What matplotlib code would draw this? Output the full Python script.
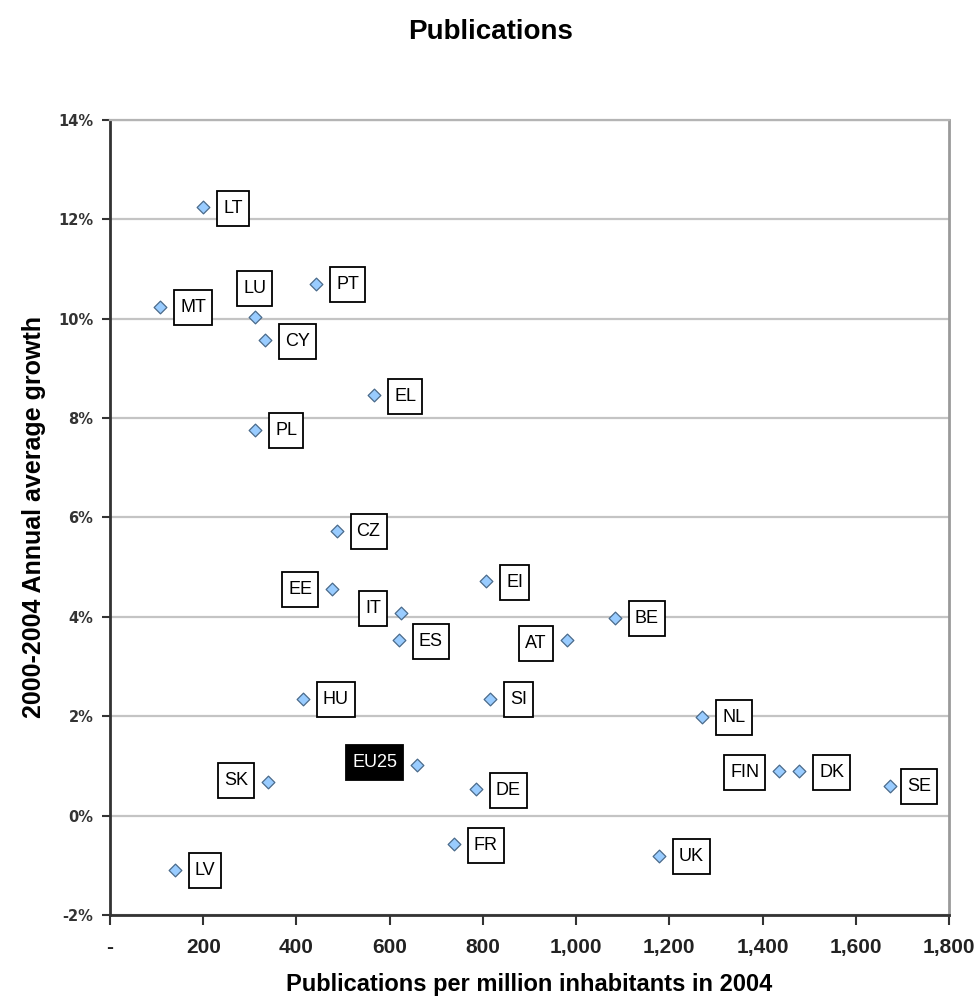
import matplotlib
matplotlib.use("Agg")
import matplotlib.pyplot as plt
from matplotlib.path import Path

# ---------------- data ----------------
countries = ['LT', 'MT', 'LU', 'PT', 'CY', 'EL', 'PL', 'CZ', 'EE', 'IT', 'ES', 'EI', 'AT',
             'HU', 'SI', 'BE', 'DE', 'SK', 'EU25', 'FR', 'LV', 'NL', 'FIN', 'DK', 'SE', 'UK']
publications = [200, 108, 311, 443, 333, 567, 312, 486, 477, 624, 620, 807, 980,
                413, 816, 1083, 785, 339, 659, 737, 139, 1271, 1436, 1479, 1674, 1178]
growth = [12.24, 10.24, 10.04, 10.70, 9.56, 8.46, 7.76, 5.73, 4.55, 4.07, 3.53, 4.71, 3.53,
          2.35, 2.35, 3.98, 0.53, 0.68, 1.02, -0.58, -1.09, 1.99, 0.89, 0.89, 0.60, -0.81]
x_ticks = [0, 200, 400, 600, 800, 1000, 1200, 1400, 1600, 1800]
x_tick_labels = ['-', '200', '400', '600', '800', '1,000', '1,200', '1,400', '1,600', '1,800']
y_ticks = [-2, 0, 2, 4, 6, 8, 10, 12, 14]
y_tick_labels = ['-2%', '0%', '2%', '4%', '6%', '8%', '10%', '12%', '14%']

# label placement (style): side and pixel offsets
left_labels = {'EE': 0, 'IT': 4.6, 'AT': -3.7, 'SK': 1, 'EU25': 2.5, 'FIN': -1}
above_labels = {'LU'}


# ---------------- custom box: different horizontal / vertical padding ----------------
def make_box(padx, pady):
    def box(x0, y0, width, height, mutation_size):
        x0 -= padx
        y0 -= pady
        x1 = x0 + width + 2 * padx
        y1 = y0 + height + 2 * pady
        return Path([(x0, y0), (x1, y0), (x1, y1), (x0, y1), (x0, y0)], closed=True)
    return box


fig = plt.figure(figsize=(9.79, 10.02), dpi=100)
ax = fig.add_axes([110 / 979, 1 - 915 / 1002, (949 - 110) / 979, (915 - 119.7) / 1002])

ax.set_xlim(0, 1800)
ax.set_ylim(-2, 14)

for yv in y_ticks:
    ax.axhline(yv, color='#c4c4c4', lw=1.6, zorder=0)

ax.scatter(publications, growth, marker='D', s=42, facecolor='#99ccff',
           edgecolor='#4a6a8a', linewidth=0.9, zorder=3)

label_font = 'Liberation Sans'
box = make_box(6, 9)
for name, xv, yv in zip(countries, publications, growth):
    if name == 'EU25':
        fc, tc = 'black', 'white'
    else:
        fc, tc = 'white', 'black'
    bbox = dict(boxstyle=box, facecolor=fc, edgecolor='black', linewidth=1.3)
    if name in above_labels:
        ax.annotate(name, (xv, yv), xytext=(0, 20), textcoords='offset pixels',
                    ha='center', va='bottom', fontsize=13, family=label_font,
                    color=tc, bbox=bbox, zorder=4)
    elif name in left_labels:
        ax.annotate(name, (xv, yv), xytext=(-20, left_labels[name]), textcoords='offset pixels',
                    ha='right', va='center', fontsize=13, family=label_font,
                    color=tc, bbox=bbox, zorder=4)
    else:
        dx = 17 if name == 'SE' else 20
        ax.annotate(name, (xv, yv), xytext=(dx, -1), textcoords='offset pixels',
                    ha='left', va='center', fontsize=13, family=label_font,
                    color=tc, bbox=bbox, zorder=4)

ax.set_xticks(x_ticks)
ax.set_xticklabels(x_tick_labels, fontsize=15, fontweight='bold', family='Liberation Sans',
                   color='#222222')
ax.set_yticks(y_ticks)
ax.set_yticklabels(y_tick_labels, fontsize=10.5, fontweight='bold', family='DejaVu Sans',
                   color='#333333')
ax.tick_params(axis='x', direction='out', length=7, width=1.5, color='#333333', pad=9.7)
ax.tick_params(axis='y', direction='out', length=6, width=1.5, color='#333333', pad=6)

ax.spines['left'].set_color('#333333')
ax.spines['left'].set_linewidth(2)
ax.spines['bottom'].set_color('#333333')
ax.spines['bottom'].set_linewidth(2)
ax.spines['right'].set_color('#9a9a9a')
ax.spines['right'].set_linewidth(2)
ax.spines['top'].set_color('#b4b4b4')
ax.spines['top'].set_linewidth(1.6)

ax.set_xlabel('Publications per million inhabitants in 2004', fontsize=17,
              fontweight='bold', family='Liberation Sans', labelpad=11.5)
ax.set_ylabel('2000-2004 Annual average growth', fontsize=18,
              fontweight='bold', family='Liberation Sans', labelpad=9)

fig.text(491 / 979, 1 - 32 / 1002, 'Publications', ha='center', va='center',
         fontsize=20, fontweight='bold', family='Liberation Sans')

fig.savefig('out.png', dpi=100)
